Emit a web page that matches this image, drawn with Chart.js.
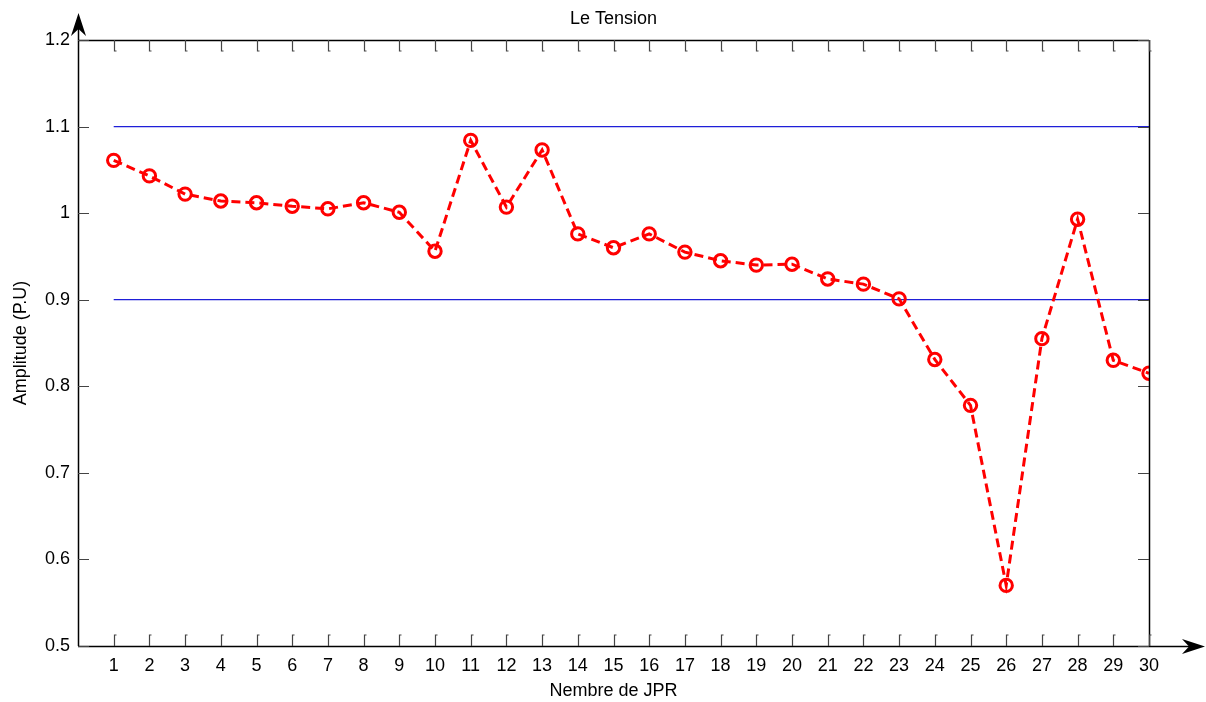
<!DOCTYPE html>
<html>
<head>
<meta charset="utf-8">
<script src="https://cdn.jsdelivr.net/npm/chart.js@4/dist/chart.umd.min.js"></script>
<style>
html,body{margin:0;padding:0;background:#fff;}
#wrap{width:1206px;height:702px;}
</style>
</head>
<body>
<div id="wrap"><canvas id="c" width="1206" height="702"></canvas></div>
<script>
const categories = [1,2,3,4,5,6,7,8,9,10,11,12,13,14,15,16,17,18,19,20,21,22,23,24,25,26,27,28,29,30];
const tension = [1.061,1.043,1.022,1.014,1.012,1.008,1.005,1.012,1.001,0.956,1.084,1.007,1.073,0.976,0.960,0.976,0.955,0.945,0.940,0.941,0.924,0.918,0.901,0.831,0.778,0.570,0.855,0.993,0.830,0.815];
const upperLimit = 1.1;
const lowerLimit = 0.9;
const yTicks = [0.5,0.6,0.7,0.8,0.9,1,1.1,1.2];
const xTickLabels = categories.map(String);

const FONT = "'Liberation Sans', Arial, sans-serif";
const FS = 18;

const mainData = categories.map((c,i)=>({x:c,y:tension[i]}));
const first = categories[0], last = categories[categories.length-1];

const framePlugin = {
  id:'frame',
  afterDraw(chart){
    const ctx = chart.ctx, a = chart.chartArea;
    const xs = chart.scales.x, ys = chart.scales.y;
    ctx.save();
    ctx.strokeStyle = '#000';
    ctx.lineWidth = 1.5;
    ctx.beginPath();
    ctx.moveTo(a.left, a.top+0.5); ctx.lineTo(a.right, a.top+0.5);
    ctx.moveTo(a.right+0.5, a.top); ctx.lineTo(a.right+0.5, a.bottom);
    ctx.stroke();
    ctx.beginPath();
    ctx.moveTo(a.left+0.5, a.bottom); ctx.lineTo(a.left+0.5, a.top-20);
    ctx.moveTo(a.left, a.bottom+0.5); ctx.lineTo(a.right+40, a.bottom+0.5);
    ctx.stroke();
    ctx.fillStyle = '#000';
    ctx.beginPath();
    ctx.moveTo(a.left+0.5, a.top-27);
    ctx.lineTo(a.left+8, a.top-4);
    ctx.lineTo(a.left+0.5, a.top-11);
    ctx.lineTo(a.left-7, a.top-4);
    ctx.closePath(); ctx.fill();
    ctx.beginPath();
    ctx.moveTo(a.right+56, a.bottom+0.5);
    ctx.lineTo(a.right+33, a.bottom+8);
    ctx.lineTo(a.right+40, a.bottom+0.5);
    ctx.lineTo(a.right+33, a.bottom-7);
    ctx.closePath(); ctx.fill();
    ctx.strokeStyle = '#444';
    ctx.lineWidth = 1.2;
    ctx.beginPath();
    categories.forEach(c=>{
      const px = Math.round(xs.getPixelForValue(c))+0.5;
      ctx.moveTo(px, a.bottom); ctx.lineTo(px, a.bottom-11); ctx.lineTo(px+2, a.bottom-11);
      ctx.moveTo(px, a.top); ctx.lineTo(px, a.top+11); ctx.lineTo(px+2, a.top+11);
    });
    yTicks.forEach(v=>{
      const py = Math.round(ys.getPixelForValue(v))+0.5;
      ctx.moveTo(a.left, py); ctx.lineTo(a.left+11, py);
      ctx.moveTo(a.right, py); ctx.lineTo(a.right-11, py);
    });
    ctx.stroke();
    ctx.restore();
  }
};

new Chart(document.getElementById('c'), {
  type:'line',
  data:{
    datasets:[
      {data:[{x:first,y:upperLimit},{x:last,y:upperLimit}], borderColor:'#1f1fd8', borderWidth:1.2, pointRadius:0, fill:false, order:2},
      {data:[{x:first,y:lowerLimit},{x:last,y:lowerLimit}], borderColor:'#1f1fd8', borderWidth:1.2, pointRadius:0, fill:false, order:2},
      {data:mainData, borderColor:'#ff0000', borderWidth:3, borderDash:[9,5],
       pointRadius:6.2, pointBorderWidth:3, pointBorderColor:'#ff0000', pointBackgroundColor:'rgba(0,0,0,0)',
       pointStyle:'circle', fill:false, tension:0, order:1}
    ]
  },
  options:{
    responsive:false, animation:false,
    layout:{padding:{left:0,right:57,top:0,bottom:0}},
    plugins:{ legend:{display:false}, tooltip:{enabled:false}, title:{display:false} },
    scales:{
      x:{type:'linear', min:0, max:30,
         grid:{display:false, drawTicks:false}, border:{display:false},
         afterBuildTicks(s){ s.ticks = categories.map(v=>({value:v})); },
         ticks:{autoSkip:false, maxRotation:0, padding:9, color:'#000', font:{family:FONT,size:FS},
           callback:(v)=>{const i=categories.indexOf(v); return i>=0?xTickLabels[i]:'';}},
         title:{display:true, text:'Nembre de JPR', color:'#000', font:{family:FONT,size:FS}, padding:{top:1,bottom:0}},
         afterFit(s){ s.height = 56; }
      },
      top:{type:'linear', position:'top', min:0, max:30,
         grid:{display:false, drawTicks:false}, border:{display:false},
         ticks:{display:false},
         title:{display:true, text:'Le Tension', color:'#000', font:{family:FONT,size:FS}, padding:{top:8,bottom:0}},
         afterFit(s){ s.height = 40; }
      },
      y:{min:0.5, max:1.2,
         grid:{display:false, drawTicks:false}, border:{display:false},
         afterBuildTicks(s){ s.ticks = yTicks.map(v=>({value:v})); },
         ticks:{padding:8, color:'#000', font:{family:FONT,size:FS}, callback:(v)=>String(Math.round(v*10)/10)},
         title:{display:true, text:'Amplitude (P.U)', color:'#000', font:{family:FONT,size:FS}, padding:{top:10,bottom:0}},
         afterFit(s){ s.width = 78; }
      }
    }
  },
  plugins:[framePlugin]
});
</script>
</body>
</html>
